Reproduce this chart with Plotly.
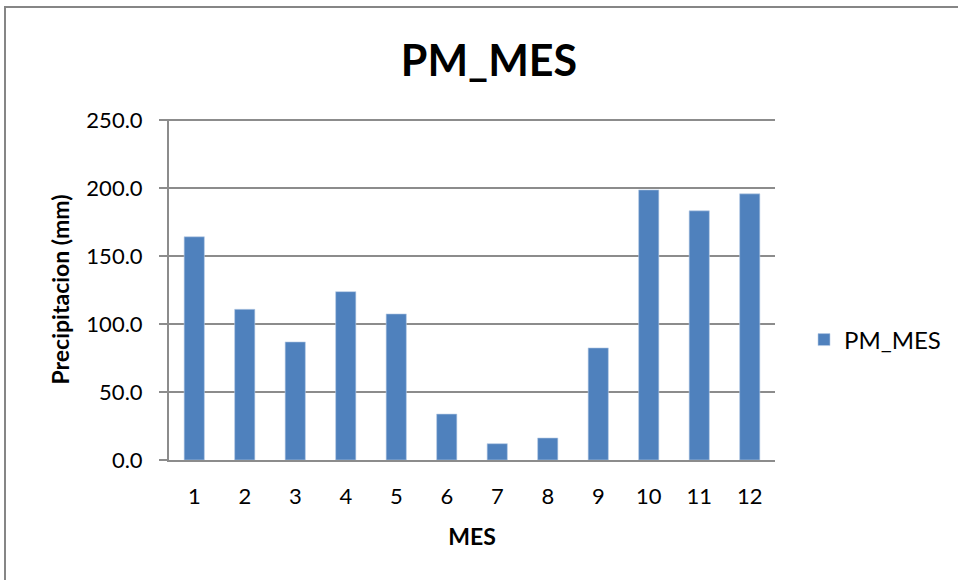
import plotly.graph_objects as go

# Monthly precipitation
meses = ["1", "2", "3", "4", "5", "6", "7", "8", "9", "10", "11", "12"]
pm_mes = [164.3, 110.9, 86.9, 123.9, 107.5, 33.8, 12.0, 16.2, 82.5, 198.8, 183.4, 195.9]
y_ticks = [0, 50, 100, 150, 200, 250]
y_tick_labels = ["0.0", "50.0", "100.0", "150.0", "200.0", "250.0"]

FONT = "Lato, Open Sans, sans-serif"
GRID = "#8c8c8c"

fig = go.Figure()
fig.add_trace(go.Bar(
    x=meses,
    y=pm_mes,
    name="PM_MES",
    marker=dict(color="#4F81BD", line=dict(color="#B9CDE5", width=0.6)),
    showlegend=True,
))

W, H = 958, 580
L, R, T, B = 169, 183, 119, 120
PW, PH = W - L - R, H - T - B

fig.update_layout(
    width=W,
    height=H,
    margin=dict(l=L, r=R, t=T, b=B),
    paper_bgcolor="white",
    plot_bgcolor="white",
    bargap=0.6,
    font=dict(family=FONT, color="black", size=22),
    title=dict(
        text="<b>PM_MES</b>",
        x=489 / W,
        xanchor="center",
        y=1 - 61 / H,
        yanchor="middle",
        font=dict(size=43, family=FONT),
    ),
    showlegend=True,
    legend=dict(
        x=(804 - L) / PW,
        xanchor="left",
        y=(H - B - 340) / PH,
        yanchor="middle",
        font=dict(size=24, family=FONT),
        itemwidth=30,
        bgcolor="rgba(0,0,0,0)",
    ),
    xaxis=dict(
        type="category",
        showgrid=False,
        showline=True,
        linecolor=GRID,
        linewidth=2,
        ticks="",
        ticklabelstandoff=16,
        tickfont=dict(size=22, family=FONT),
        title=dict(text="<b>MES</b>", font=dict(size=23, family=FONT), standoff=20),
    ),
    yaxis=dict(
        range=[0, 251],
        tickvals=y_ticks,
        ticktext=y_tick_labels,
        showgrid=True,
        gridcolor=GRID,
        gridwidth=2,
        showline=True,
        linecolor=GRID,
        linewidth=2,
        ticks="outside",
        ticklen=8,
        tickcolor=GRID,
        tickwidth=2,
        ticklabelstandoff=12,
        zeroline=False,
        tickfont=dict(size=22, family=FONT),
        title=dict(text="<b>Precipitacion (mm)</b>", font=dict(size=23, family=FONT), standoff=10),
    ),
    shapes=[
        dict(
            type="rect",
            xref="paper",
            yref="paper",
            x0=(5 - L) / PW,
            x1=(W + 20 - L) / PW,
            y0=-(H + 20 - (H - B)) / PH,
            y1=1 + (T - 7) / PH,
            line=dict(color="#868686", width=2),
            fillcolor="rgba(0,0,0,0)",
            layer="below",
        )
    ],
)

fig.write_html("out.html")
